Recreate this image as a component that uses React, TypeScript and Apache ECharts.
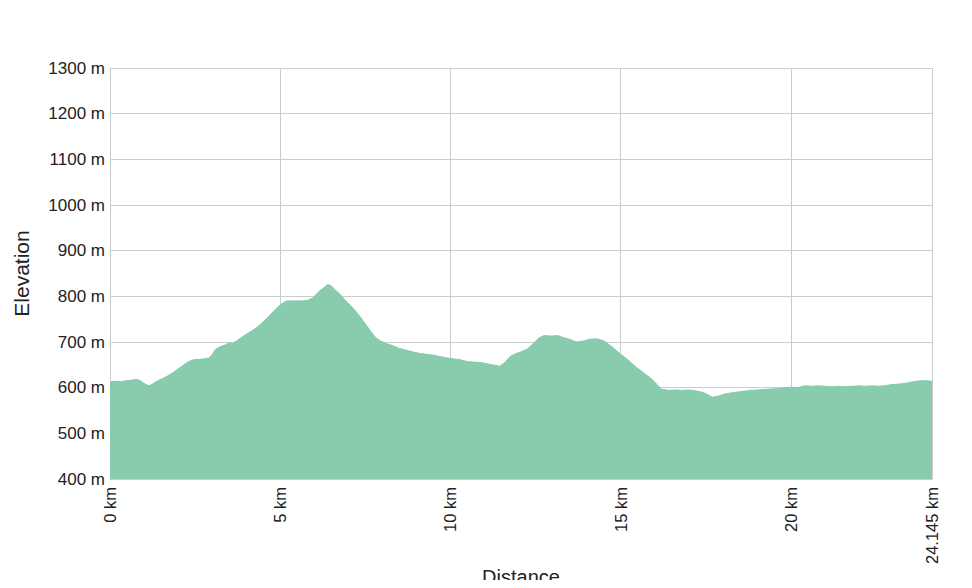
import React, { useEffect, useRef } from "react";
import * as echarts from "echarts";

const distanceKm: number[] = [
  0.0, 0.15, 0.3, 0.45, 0.6, 0.75, 0.85, 0.95, 1.05, 1.15, 1.25, 1.4, 1.55, 1.7, 1.85, 2.0, 2.15, 2.3, 2.45, 2.6,
  2.75, 2.9, 3.0, 3.1, 3.25, 3.4, 3.5, 3.6, 3.75, 3.9, 4.05, 4.2, 4.35, 4.5, 4.65, 4.8, 4.95, 5.05, 5.2, 5.4,
  5.6, 5.8, 5.95, 6.1, 6.25, 6.4, 6.5, 6.6, 6.75, 6.9, 7.05, 7.2, 7.35, 7.5, 7.65, 7.8, 7.95, 8.1, 8.3, 8.5,
  8.7, 8.9, 9.1, 9.3, 9.5, 9.7, 9.9, 10.1, 10.3, 10.5, 10.7, 10.9, 11.1, 11.3, 11.45, 11.6, 11.75, 11.9, 12.05, 12.25,
  12.45, 12.6, 12.75, 12.95, 13.15, 13.3, 13.5, 13.7, 13.9, 14.1, 14.3, 14.5, 14.7, 14.85, 15.0, 15.15, 15.3, 15.45, 15.6, 15.75,
  15.9, 16.05, 16.2, 16.4, 16.6, 16.8, 17.0, 17.2, 17.4, 17.55, 17.7, 17.85, 18.0, 18.2, 18.4, 18.6, 18.8, 19.0, 19.2, 19.4,
  19.6, 19.8, 20.0, 20.2, 20.4, 20.6, 20.8, 21.0, 21.2, 21.4, 21.6, 21.8, 22.0, 22.2, 22.4, 22.6, 22.8, 23.0, 23.2, 23.4,
  23.6, 23.8, 24.0, 24.145,
];

const elevationM: number[] = [
  613, 614, 613, 615, 616, 618, 617, 612, 607, 604, 608, 615, 620, 626, 633, 641, 649, 657, 661, 662,
  663, 665, 672, 684, 690, 694, 698, 697, 704, 712, 719, 726, 734, 744, 755, 767, 778, 784, 790, 790,
  790, 791, 796, 808, 817, 826, 823, 815, 805, 792, 781, 769, 755, 740, 724, 710, 702, 697, 692, 686,
  682, 678, 675, 673, 671, 668, 665, 663, 661, 657, 656, 655, 652, 649, 647, 655, 668, 674, 678, 684,
  698, 709, 714, 713, 714, 710, 706, 700, 702, 706, 707, 703, 692, 683, 673, 665, 655, 645, 637, 628,
  620, 608, 597, 594, 595, 594, 595, 593, 590, 585, 579, 581, 585, 588, 590, 592, 594, 595, 596, 597,
  598, 600, 601, 600, 604, 603, 604, 603, 602, 603, 602, 603, 604, 603, 604, 603, 605, 607, 608, 610,
  613, 615, 615, 614,
];

const yMin = 400;
const yMax = 1300;
const yInterval = 100;
const xMin = 0;
const xMax = 24.145;
const xInterval = 5;

export default function App() {
  const ref = useRef<HTMLDivElement>(null);

  useEffect(() => {
    if (!ref.current) return;
    const chart = echarts.init(ref.current, null, { renderer: "svg" });
    const font = "'Liberation Sans', Arial, sans-serif";
    chart.setOption({
      animation: false,
      backgroundColor: "#ffffff",
      grid: {
        left: 110,
        right: 40,
        top: 68,
        bottom: 109,
        containLabel: false,
        outerBoundsMode: "none",
      },
      xAxis: {
        type: "value",
        min: xMin,
        max: xMax,
        interval: xInterval,
        name: "Distance",
        nameLocation: "middle",
        nameGap: 88,
        nameMoveOverlap: false,
        nameTextStyle: { fontFamily: font, fontSize: 20, color: "#222" },
        axisLine: { show: true, lineStyle: { color: "#cccccc" } },
        axisTick: { show: false },
        axisLabel: {
          rotate: 90,
          margin: 8,
          fontFamily: font,
          fontSize: 16.5,
          color: "#222",
          showMaxLabel: true,
          showMinLabel: true,
          formatter: (v: number) => `${v} km`,
        },
        splitLine: { show: true, lineStyle: { color: "#cccccc", width: 1 } },
      },
      yAxis: {
        type: "value",
        min: yMin,
        max: yMax,
        interval: yInterval,
        name: "Elevation",
        nameLocation: "middle",
        nameRotate: 90,
        nameGap: 78,
        nameMoveOverlap: false,
        nameTextStyle: { fontFamily: font, fontSize: 21, color: "#222" },
        axisLine: { show: true, lineStyle: { color: "#cccccc" } },
        axisTick: { show: false },
        axisLabel: {
          margin: 5,
          fontFamily: font,
          fontSize: 17,
          color: "#222",
          formatter: (v: number) => `${v} m`,
        },
        splitLine: { show: true, lineStyle: { color: "#cccccc", width: 1 } },
      },
      series: [
        {
          type: "line",
          data: distanceKm.map((d, i) => [d, elevationM[i]]),
          symbol: "none",
          smooth: false,
          lineStyle: { width: 1, color: "#86caab" },
          areaStyle: { color: "#88cbad", opacity: 1, origin: "start" },
          z: 3,
        },
      ],
    });
    return () => chart.dispose();
  }, []);

  return <div ref={ref} style={{ width: 972, height: 588, margin: -8 }} />;
}
